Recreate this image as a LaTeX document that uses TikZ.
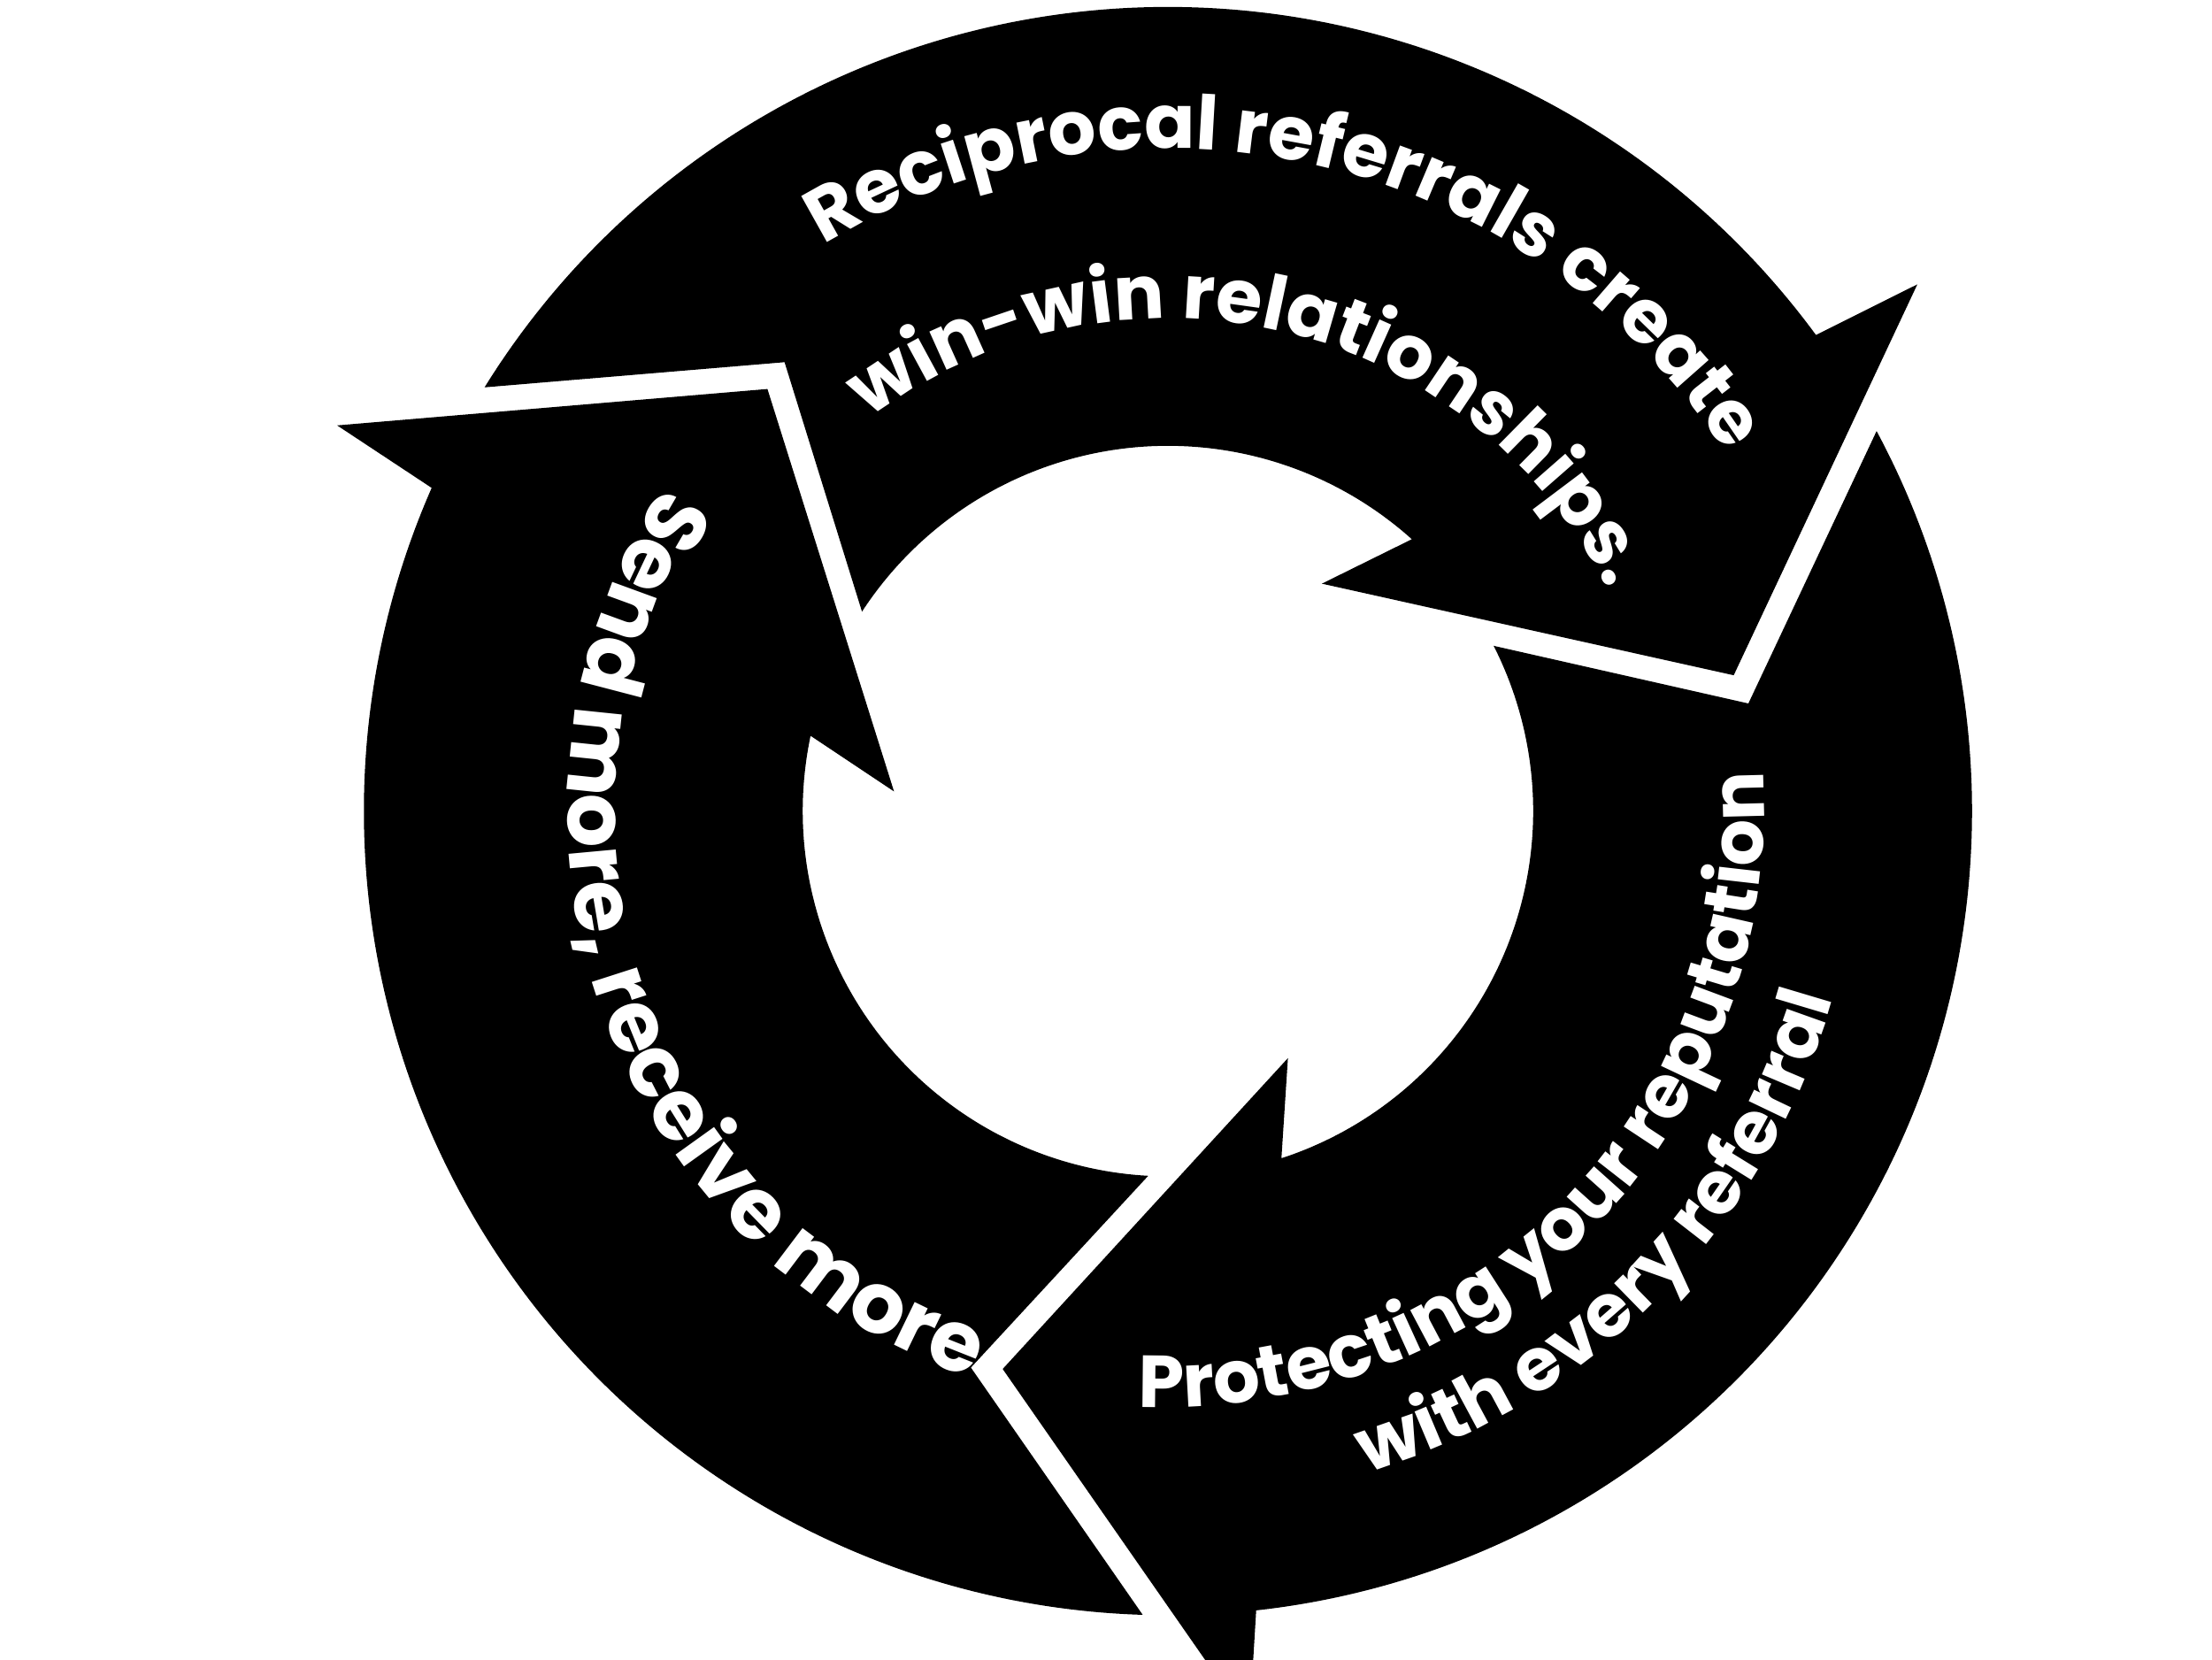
\documentclass[tikz,border=0pt]{standalone}
\usepackage{fontspec}
\newfontfamily\pop{Poppins}
\usetikzlibrary{decorations.text}
\tikzset{
  arrowseg/.style={fill=black,draw=none},
  curvetext/.style={decorate,decoration={text along path,text align=center,text color=white}}
}
\newcommand{\arrowshape}{
  (148.2:568pt) arc[start angle=148.2,end angle=36.3,radius=568pt]
  -- (35.1:647pt) -- (13.5:411pt) -- (55.9:194pt) -- (48.1:258pt)
  arc[start angle=48.1,end angle=146.9,radius=258pt]
  -- (130.5:417pt) -- cycle}
\newcommand{\tf}[1]{|\pop\bfseries\fontsize{#1}{#1}\selectfont|}
\begin{document}
\begin{tikzpicture}[x=1pt,y=1pt]
\fill[white] (0,0) rectangle (1562.5,1171.9);
\path[use as bounding box] (0,0) rectangle (1562.5,1171.9);
\coordinate (C) at (825,599);
\begin{scope}[shift={(C)}]
  \fill[arrowseg] \arrowshape;
  \begin{scope}[rotate=120] \fill[arrowseg] \arrowshape; \end{scope}
  \begin{scope}[rotate=-120] \fill[arrowseg] \arrowshape; \end{scope}
  % top texts
  \path[curvetext,decoration={text={\tf{53}Reciprocal referrals create}}]
    (142:468pt) arc[start angle=142,end angle=12,radius=468pt];
  \path[curvetext,decoration={text={\tf{53}win-win relationships.}}]
    (142:348pt) arc[start angle=142,end angle=12,radius=348pt];
  % right texts
  \path[curvetext,decoration={text={\tf{52}Protecting your reputation}}]
    (240.5:421pt) arc[start angle=240.5,end angle=390.5,radius=421pt];
  \path[curvetext,decoration={text={\tf{52}with every referral}}]
    (240.5:488pt) arc[start angle=240.5,end angle=390.5,radius=488pt];
  % left text (mirrored, as in the reference)
  \begin{scope}[xscale=-1]
  \path[curvetext,decoration={text={\tf{60}Send more, receive more}}]
    (56:424pt) arc[start angle=56,end angle=-94,radius=424pt];
  \end{scope}
\end{scope}
\end{tikzpicture}
\end{document}
